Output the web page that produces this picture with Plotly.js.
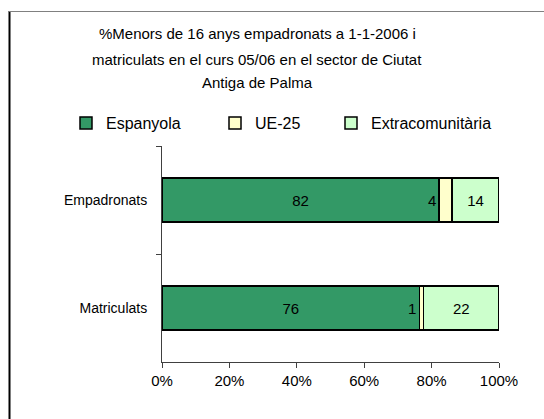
<!DOCTYPE html>
<html>
<head>
<meta charset="utf-8">
<script src="https://cdn.plot.ly/plotly-3.0.1.min.js"></script>
<style>
html,body{margin:0;padding:0;background:#fff;}
#chart{width:544px;height:419px;}
</style>
</head>
<body>
<div id="chart"></div>
<script>
// Data
var categories = ['Empadronats', 'Matriculats'];
var espanyola = [82.2, 76.4];
var ue25 = [3.9, 1.2];
var extracomunitaria = [13.9, 22.4];
var seriesNames = ['Espanyola', 'UE-25', 'Extracomunitària'];
var xTicks = [0, 20, 40, 60, 80, 100];
var titleLines = ['%Menors de 16 anys empadronats a 1-1-2006 i',
                  'matriculats en el curs 05/06 en el sector de Ciutat',
                  'Antiga de Palma'];

var FONT = 'Liberation Sans, Arial, sans-serif';
var FS = 14;
var lineStyle = {color: '#000000', width: 1.5};

// plot area in pixels: x 162..499, y 146..362
function py(p) { return (362 - p) / 216; }
function px(p) { return (p - 162) / 337; }
function fmt(arr) { return arr.map(function (v) { return String(Math.round(v)); }); }

var traces = [
  {type: 'bar', orientation: 'h', name: seriesNames[0], y: categories, x: espanyola,
   marker: {color: '#339966', line: lineStyle}, legend: 'legend',
   text: fmt(espanyola), textposition: 'inside', insidetextanchor: 'middle',
   textfont: {family: FONT, size: 15, color: '#000'}, hoverinfo: 'x+name'},
  {type: 'bar', orientation: 'h', name: seriesNames[1], y: categories, x: ue25,
   marker: {color: '#FFFFCC', line: lineStyle}, legend: 'legend2',
   textposition: 'none', hoverinfo: 'x+name'},
  {type: 'bar', orientation: 'h', name: seriesNames[2], y: categories, x: extracomunitaria,
   marker: {color: '#CCFFCC', line: lineStyle}, legend: 'legend3',
   text: fmt(extracomunitaria), textposition: 'inside', insidetextanchor: 'middle',
   textfont: {family: FONT, size: 15, color: '#000'}, hoverinfo: 'x+name'}
];

var annotations = [];
var titleY = [34, 59, 83];
titleLines.forEach(function (t, i) {
  annotations.push({xref: 'paper', yref: 'paper', x: px(257), y: py(titleY[i]),
    text: t, showarrow: false, font: {family: FONT, size: 15, color: '#000'},
    xanchor: 'center', yanchor: 'middle'});
});

categories.forEach(function (c, i) {
  annotations.push({xref: 'x', yref: 'y', x: espanyola[i], y: c, text: fmt(ue25)[i],
    xanchor: 'right', yanchor: 'middle', xshift: -1, showarrow: false,
    font: {family: FONT, size: 15, color: '#000'}});
});

function legendAt(left) {
  return {orientation: 'h', xref: 'container', yref: 'container', x: left / 544, y: 1 - 123 / 419,
    xanchor: 'left', yanchor: 'middle', font: {family: FONT, size: 16, color: '#000'},
    bgcolor: 'rgba(0,0,0,0)', itemclick: false, itemdoubleclick: false};
}

var layout = {
  width: 544, height: 419,
  margin: {l: 162, r: 45, t: 146, b: 57, pad: 0},
  paper_bgcolor: '#ffffff', plot_bgcolor: '#ffffff',
  font: {family: FONT, size: FS, color: '#000'},
  barmode: 'stack', bargap: 0.59,
  showlegend: true,
  legend: legendAt(66),
  legend2: legendAt(215),
  legend3: legendAt(331),
  xaxis: {range: [0, 100], tickvals: xTicks, ticktext: xTicks.map(function (v) { return v + '%'; }),
    showgrid: false, zeroline: false, showline: true, linecolor: '#404040', linewidth: 1,
    ticks: 'outside', ticklen: 5, tickcolor: '#404040', fixedrange: true,
    tickfont: {family: FONT, size: 15, color: '#000'}},
  yaxis: {type: 'category', categoryorder: 'array', categoryarray: categories, autorange: 'reversed',
    tickson: 'boundaries', ticks: 'outside', ticklen: 5, tickcolor: '#404040',
    showline: true, linecolor: '#404040', linewidth: 1, showgrid: false, zeroline: false,
    ticklabelstandoff: 11, fixedrange: true,
    tickfont: {family: FONT, size: 14, color: '#000'}},
  annotations: annotations,
  shapes: [
    {type: 'line', xref: 'paper', yref: 'paper', x0: px(9.5), x1: px(9.5),
     y0: py(11), y1: py(430), line: {color: '#000', width: 2}},
    {type: 'line', xref: 'paper', yref: 'paper', x0: px(9), x1: px(550),
     y0: py(11.5), y1: py(11.5), line: {color: '#808080', width: 1}}
  ]
};

Plotly.newPlot('chart', traces, layout, {displayModeBar: false, staticPlot: true});
</script>
</body>
</html>
